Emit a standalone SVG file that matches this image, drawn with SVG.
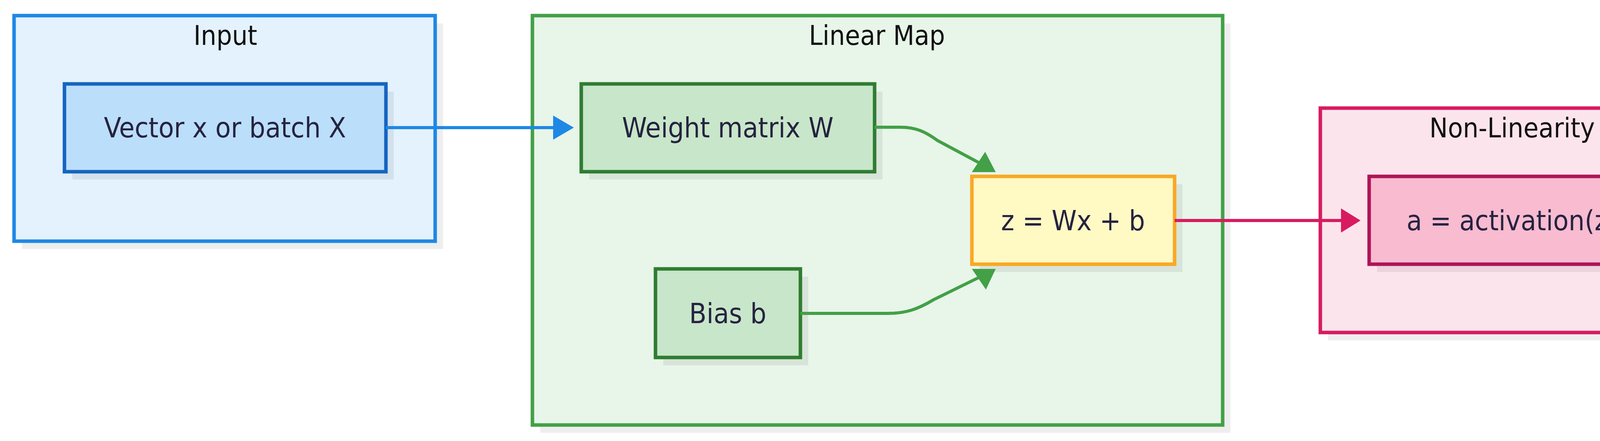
<svg xmlns="http://www.w3.org/2000/svg" width="4402" height="1130" viewBox="0 0 4402 1130">
<style>
text{font-family:"DejaVu Sans Condensed","DejaVu Sans",sans-serif;font-stretch:condensed;text-anchor:middle;dominant-baseline:central;}
.t{font-size:70px;fill:#111;dominant-baseline:alphabetic;}
.n{font-size:72px;fill:#262340;}
.sh{fill:#000;fill-opacity:0.065;}
</style>
<rect width="4402" height="1130" fill="#fff"/>
<g id="input">
<rect class="sh" x="56" y="60" width="1078" height="578"/>
<rect x="36" y="40" width="1078" height="578" fill="#E3F2FD" stroke="#1E88E5" stroke-width="9"/>
<text class="t" x="577" y="115">Input</text>
</g>
<g id="linear">
<rect class="sh" x="1383" y="60" width="1767" height="1049"/>
<rect x="1363" y="40" width="1767" height="1049" fill="#E8F5E9" stroke="#43A047" stroke-width="9"/>
<text class="t" x="2245" y="115">Linear Map</text>
</g>
<g id="nonlin">
<rect class="sh" x="3400" y="297" width="982" height="575"/>
<rect x="3380" y="277" width="982" height="575" fill="#FCE4EC" stroke="#D81B60" stroke-width="9"/>
<text class="t" x="3871" y="352">Non-Linearity</text>
</g>
<g id="vec">
<rect class="sh" x="185" y="235" width="823" height="225"/>
<rect x="165" y="215" width="823" height="225" fill="#BBDEFB" stroke="#1565C0" stroke-width="9"/>
<text class="n" x="576" y="327">Vector x or batch X</text>
</g>
<g id="weight">
<rect class="sh" x="1508" y="235" width="751" height="225"/>
<rect x="1488" y="215" width="751" height="225" fill="#C8E6C9" stroke="#2E7D32" stroke-width="9"/>
<text class="n" x="1863" y="327">Weight matrix W</text>
</g>
<g id="bias">
<rect class="sh" x="1698" y="709" width="371" height="227"/>
<rect x="1678" y="689" width="371" height="227" fill="#C8E6C9" stroke="#2E7D32" stroke-width="9"/>
<text class="n" x="1863" y="803">Bias b</text>
</g>
<g id="z">
<rect class="sh" x="2508" y="472" width="519" height="225"/>
<rect x="2488" y="452" width="519" height="225" fill="#FFF9C4" stroke="#F9A825" stroke-width="9"/>
<text class="n" x="2747" y="565">z = Wx + b</text>
</g>
<g id="act">
<rect class="sh" x="3525" y="472" width="732" height="225"/>
<rect x="3505" y="452" width="732" height="225" fill="#F8BBD0" stroke="#AD1457" stroke-width="9"/>
<text class="n" x="3871" y="565">a = activation(z)</text>
</g>
<g id="connectors" fill="none" stroke-width="8">
<path d="M988 327 H1440" stroke="#1E88E5"/>
<polygon points="1416,296 1469,327 1416,358" fill="#1E88E5" stroke="none"/>
<path d="M2239 326 H2305 C2345 326 2370 338 2400 360 L2512 420" stroke="#43A047"/>
<polygon points="2522,389 2549,441 2488,441" fill="#43A047" stroke="none"/>
<path d="M2049 803 H2272 C2320 803 2350 792 2390 768 L2512 708" stroke="#43A047"/>
<polygon points="2524,742 2549,689 2488,689" fill="#43A047" stroke="none"/>
<path d="M3007 565 H3450" stroke="#D81B60"/>
<polygon points="3433,534 3483,565 3433,596" fill="#D81B60" stroke="none"/>
</g>
</svg>
